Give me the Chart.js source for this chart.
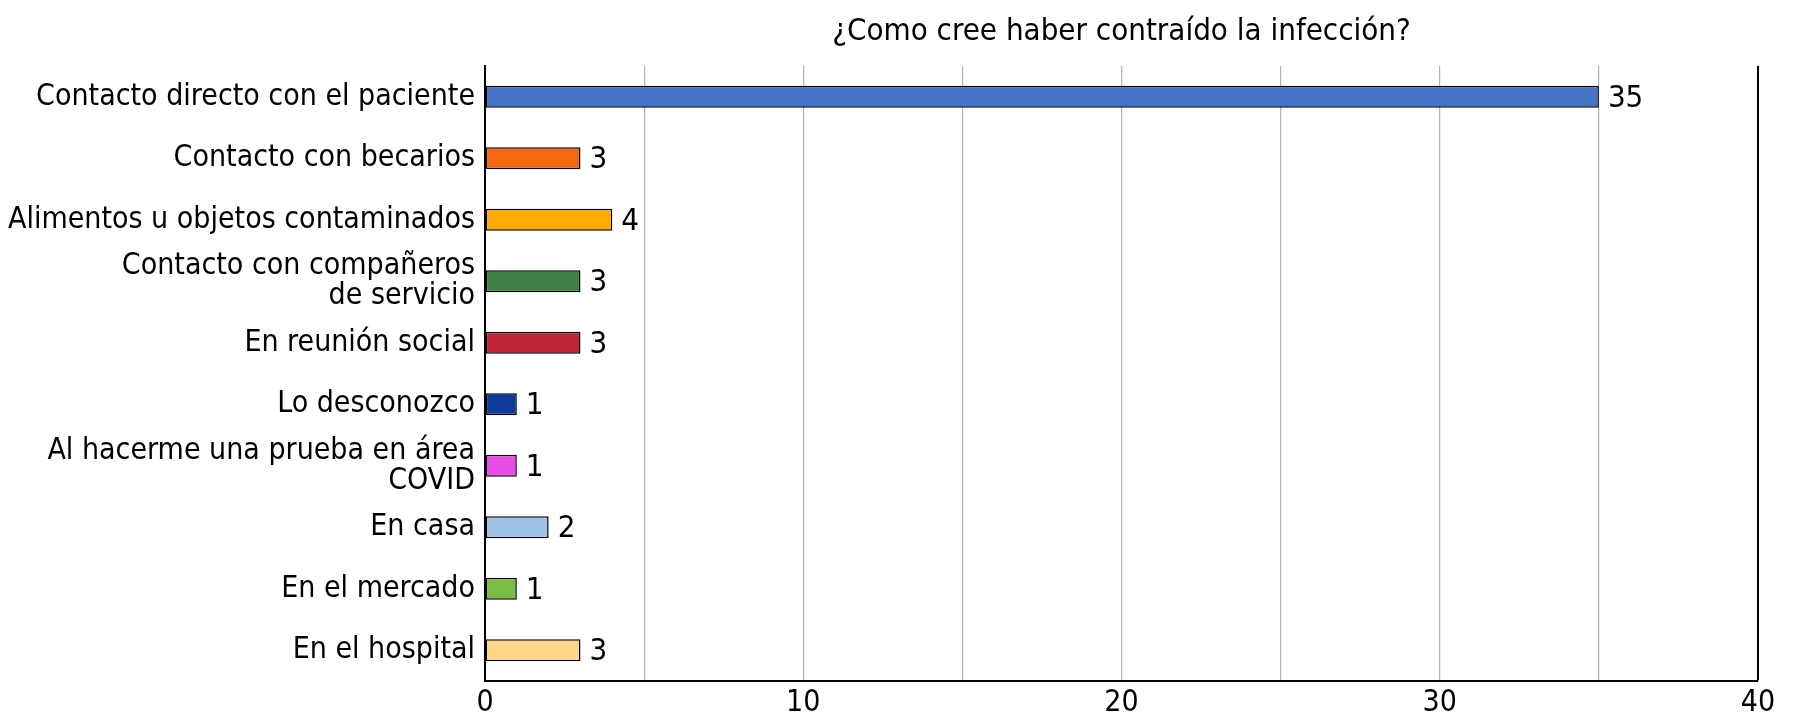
<!DOCTYPE html>
<html>
<head>
<meta charset="utf-8">
<script src="https://cdn.jsdelivr.net/npm/chart.js@4.4.1/dist/chart.umd.min.js"></script>
<style>
  html, body { margin: 0; padding: 0; background: #ffffff; }
  #wrap { width: 1800px; height: 727px; position: relative; }
</style>
</head>
<body>
<div id="wrap"><canvas id="c" width="1800" height="727"></canvas></div>
<script>
const titleText = "¿Como cree haber contraído la infección?";
const categories = [
  "Contacto directo con el paciente",
  "Contacto con becarios",
  "Alimentos u objetos contaminados",
  ["Contacto con compañeros", "de servicio"],
  "En reunión social",
  "Lo desconozco",
  ["Al hacerme una prueba en área", "COVID"],
  "En casa",
  "En el mercado",
  "En el hospital"
];
const values = [35, 3, 4, 3, 3, 1, 1, 2, 1, 3];
const barColors = ["#4472C4", "#F4690F", "#FFAA00", "#3F8045", "#C02636", "#0E3B9B", "#E94BE6", "#9DC3E6", "#78BE44", "#FFD887"];
const xTicks = [0, 10, 20, 30, 40];

const FONT = "'Liberation Sans Narrow', 'DejaVu Sans Condensed', 'Liberation Sans', sans-serif";
const FS = 30;

const extras = {
  id: 'extras',
  afterDatasetsDraw(chart) {
    const ctx = chart.ctx;
    const meta = chart.getDatasetMeta(0);
    ctx.save();
    ctx.font = (FS + 1) + "px " + FONT;
    ctx.fillStyle = "#000";
    ctx.textAlign = "left";
    ctx.textBaseline = "middle";
    meta.data.forEach((bar, i) => {
      ctx.fillText(String(values[i]), bar.x + 9, bar.y + 2);
    });
    const ca = chart.chartArea;
    ctx.textAlign = "center";
    ctx.font = (FS + 1) + "px " + FONT;
    ctx.fillText(titleText, (ca.left + ca.right) / 2, 32);
    ctx.restore();
  }
};

new Chart(document.getElementById('c'), {
  type: 'bar',
  data: {
    labels: categories,
    datasets: [{
      data: values,
      backgroundColor: barColors,
      borderColor: "#000000",
      borderWidth: 1.5,
      borderSkipped: false,
      categoryPercentage: 1.0,
      barPercentage: 0.36
    }]
  },
  options: {
    indexAxis: 'y',
    responsive: false,
    animation: false,
    layout: { padding: { left: 0, right: 42, top: 66, bottom: 2 } },
    plugins: {
      legend: { display: false },
      tooltip: { enabled: false },
      title: { display: false }
    },
    scales: {
      x: {
        min: 0, max: 40,
        afterBuildTicks(scale) {
          const t = [];
          for (let v = 0; v <= 40; v += 5) t.push({ value: v });
          scale.ticks = t;
        },
        ticks: {
          color: "#000",
          font: { family: FONT, size: FS },
          padding: 4,
          maxRotation: 0,
          autoSkip: false,
          callback: (v) => xTicks.includes(v) ? String(v) : ''
        },
        grid: {
          color: (c) => (c.tick && c.tick.value === 40) ? "#000000" : "#b3b3b3",
          lineWidth: (c) => (c.tick && c.tick.value === 40) ? 2 : 1.2,
          drawTicks: false
        },
        border: { color: "#000", width: 2 }
      },
      y: {
        afterFit(scale) { scale.width = 485; },
        ticks: {
          color: "#000",
          font: { family: FONT, size: FS, lineHeight: 1.0 },
          padding: 10,
          autoSkip: false
        },
        grid: { display: false, drawTicks: false },
        border: { color: "#000", width: 2 }
      }
    }
  },
  plugins: [extras]
});
</script>
</body>
</html>
